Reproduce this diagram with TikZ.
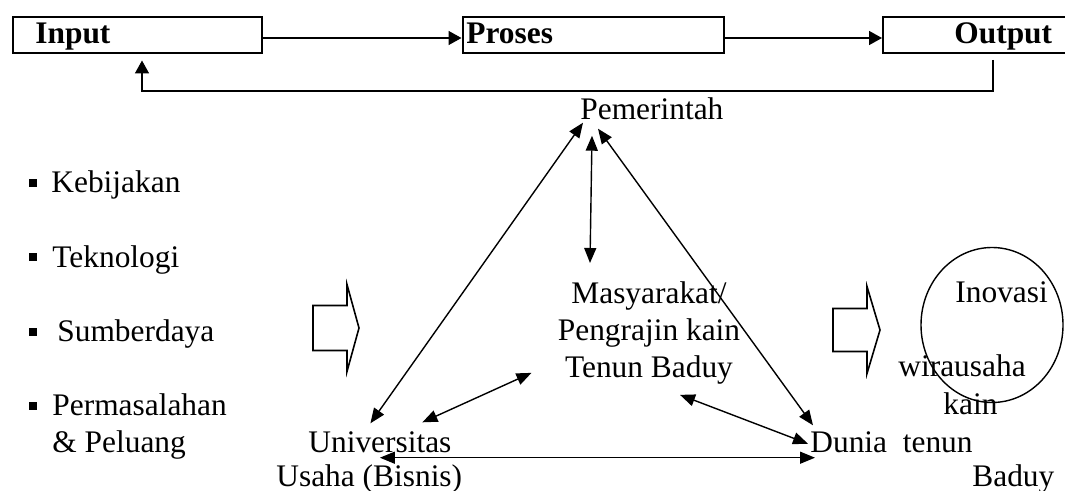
\documentclass[tikz,border=0pt]{standalone}
\usepackage{fontspec}
\setmainfont{Liberation Serif}
\usetikzlibrary{arrows.meta}

\begin{document}
\begin{tikzpicture}[x=0.5pt,y=-0.5pt]
	    \tikzstyle{every node}=[inner sep=0pt,font=\fontsize{15.7}{18.5}\selectfont]
	    \tikzstyle{stage}=[draw,line width=1pt,anchor=north west,minimum height=18pt]
	    \tikzstyle{flow}=[line width=0.75pt,-{Triangle[length=6.5pt,width=7pt]}]
	    \tikzstyle{link}=[line width=0.7pt,{Triangle[length=7.5pt,width=6pt]}-{Triangle[length=7.5pt,width=6pt]}]
	    \tikzstyle{dot}=[fill,minimum size=4pt]
	    \tikzstyle{item}=[anchor=base west]
	    \tikzstyle{bigarrow}=[draw,line width=0.8pt,line join=miter]
	    \useasboundingbox (0,0) rectangle (1065,491);
	    % top row
	    \node[stage,minimum width=124.5pt] (input) at (11.5,16.5) {};
	    \node[stage,minimum width=130.5pt] (proses) at (461.5,16.5) {};
	    \node[stage,minimum width=94pt] (output) at (882,16.5) {};
	    \node[item] (tinput) at (35,44) {\textbf{Input}};
	    \node[item] (tproses) at (466,44) {\textbf{Proses}};
	    \node[item] (toutput) at (954,44) {\textbf{Output}};
	    \draw[flow] ([yshift=-1.25pt]input.east) -- ([yshift=-1.25pt]proses.west);
	    \draw[flow] ([yshift=-1.25pt]proses.east) -- ([yshift=-1.25pt]output.west);
	    \coordinate (fbstart) at (993,60);
	    \coordinate (fbend) at (142,60.5);
	    \draw[flow] (fbstart) |- (142,91) -- (fbend);
	    % inputs
	    \node[dot] (b1) at (33,183) {};
	    \node[dot] (b2) at (33,257) {};
	    \node[dot] (b3) at (33,332) {};
	    \node[dot] (b4) at (33,406) {};
	    \node[item] (kebijakan) at (51,193) {Kebijakan};
	    \node[item] (teknologi) at (52,268) {Teknologi};
	    \node[item] (sumberdaya) at (57,342) {Sumberdaya};
	    \node[anchor=north west,align=left] (masalah) at (52,393.5) {Permasalahan\\\& Peluang};
	    % helix
	    \node[item] (gov) at (580,120) {Pemerintah};
	    \node[anchor=north,align=center] (soc) at (649,281.5) {Masyarakat/\\Pengrajin kain\\Tenun Baduy};
	    \node[item] (univ) at (308,452) {Universitas};
	    \node[item] (bisnis) at (276,487) {Usaha (Bisnis)};
	    \node[item] (dunia) at (810,452) {Dunia\ \ tenun};
	    \node[item] (baduy) at (972,487) {Baduy};
	    \draw[link] ([shift={(1.5pt,-1pt)}]gov.south west) -- ([shift={(-4.75pt,3.75pt)}]univ.north);
	    \draw[link] ([shift={(6pt,-7.5pt)}]gov.south west) -- ([shift={(-29.5pt,9.25pt)}]soc.north);
	    \draw[link] ([shift={(9pt,-4pt)}]gov.south west) -- ([shift={(1.5pt,2.75pt)}]dunia.north west);
	    \draw[link] ([shift={(21.25pt,4.25pt)}]univ.north) -- ([shift={(-13pt,6pt)}]soc.south west);
	    \draw[link] ([shift={(15.5pt,-5pt)}]soc.south) -- ([shift={(-1pt,-1pt)}]dunia.west);
	    \draw[link] ([yshift=-2.5pt]univ.south) -- ([shift={(2.5pt,-2.5pt)}]dunia.south west);
	    % big arrows
	    \draw[bigarrow,shift={(313,328)}] (0,-22.5) -- (34,-22.5) -- (34,-43.5) -- (46,0) -- (34,43.5) -- (34,22.5) -- (0,22.5) -- cycle;
	    \draw[bigarrow,shift={(833,330)}] (0,-21.5) -- (34,-21.5) -- (34,-43.5) -- (47,0) -- (34,43.5) -- (34,21.5) -- (0,21.5) -- cycle;
	    % outcome
	    \coordinate (ring) at (992,325);
	    \draw[line width=0.7pt] (ring) ellipse [x radius=35.5pt,y radius=38.75pt];
	    \node[item] (inovasi) at (955,303) {Inovasi};
	    \node[item] (wira) at (898,377) {wirausaha};
	    \node[item] (kain) at (943,415) {kain};
\end{tikzpicture}
\end{document}
